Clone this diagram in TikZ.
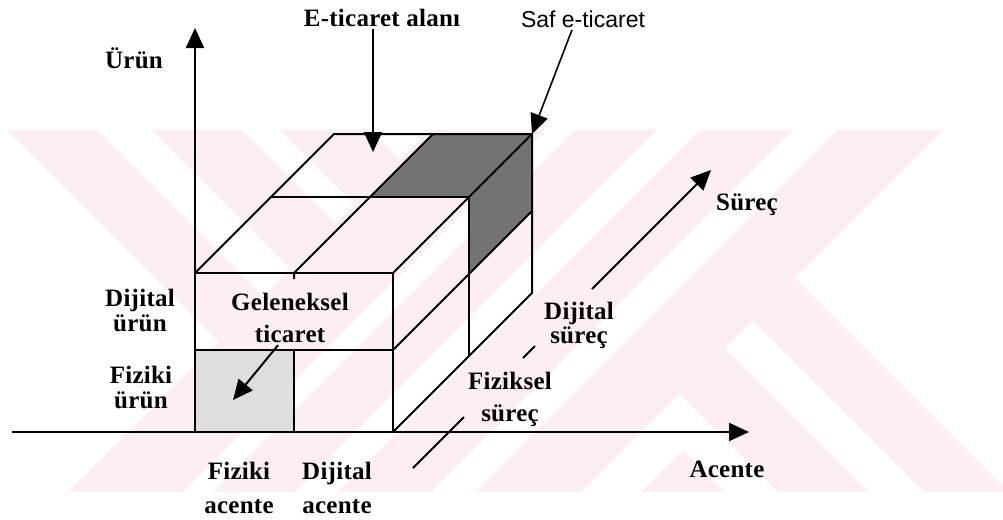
\documentclass[tikz,border=0pt]{standalone}
\usepackage{fontspec}
\setmainfont{Liberation Serif}
\newfontfamily\lblfont[LetterSpace=1]{Liberation Serif}
\newfontfamily\arialfont{Liberation Sans}
\usepackage{tikz}
\usetikzlibrary{arrows.meta}
\definecolor{wmpink}{RGB}{253,238,241}

\begin{document}
\begin{tikzpicture}[x=0.5pt,y=-0.5pt]
        \tikzstyle{wm}=[fill=wmpink]
        \tikzstyle{txt}=[font=\lblfont\bfseries\fontsize{12.5}{15}\selectfont,inner sep=1pt,align=center]
        \tikzstyle{cube}=[draw,line width=1pt,line join=round]
        \tikzstyle{arr}=[draw,line width=1pt,-{Triangle[length=10pt,width=9pt]}]
        \useasboundingbox (0,0) rectangle (1003,520);
        % background stripes
        \begin{scope}
          \clip (0,130) rectangle (1003,492);
          \foreach \a/\b in {560/675,705/787,830/923,967/1073}
            \fill[wm] (\a-130,130) -- (\b-130,130) -- (\b-492,492) -- (\a-492,492) -- cycle;
          \begin{scope}
            \clip (0,130) -- (430,130) -- (68,492) -- (0,492) -- cycle;
            \foreach \a/\b in {-123/-33,22/112,150/240}
              \fill[wm] (\a+130,130) -- (\b+130,130) -- (\b+492,492) -- (\a+492,492) -- cycle;
          \end{scope}
          \begin{scope}
            \clip (943,130) -- (1003,130) -- (1003,492) -- (581,492) -- cycle;
            \foreach \a/\b in {286/377,432/517}
              \fill[wm] (\a+130,130) -- (\b+130,130) -- (\b+492,492) -- (\a+492,492) -- cycle;
            \fill[wm] (683,450) -- (725,492) -- (641,492) -- cycle;
          \end{scope}
        \end{scope}
        % cube corners
        \coordinate (a1) at (195,432);
        \coordinate (a2) at (294,432);
        \coordinate (a3) at (393,432);
        \coordinate (b1) at (195,350);
        \coordinate (b2) at (294,350);
        \coordinate (b3) at (393,350);
        \coordinate (c1) at (195,273);
        \coordinate (c2) at (294,273);
        \coordinate (c3) at (393,273);
        \coordinate (m1) at (271,197);
        \coordinate (m2) at (370,197);
        \coordinate (m3) at (469,197);
        \coordinate (m4) at (469,274);
        \coordinate (m5) at (469,356);
        \coordinate (d1) at (334,134);
        \coordinate (d2) at (433,134);
        \coordinate (d3) at (532,134);
        \coordinate (e3) at (532,211);
        \coordinate (g3) at (532,293);
        % shaded cells
        \fill[black!13] (a1) -- (a2) -- (b2) -- (b1) -- cycle;
        \fill[black!55] (m2) -- (m3) -- (d3) -- (d2) -- cycle;
        \fill[black!55] (m3) -- (d3) -- (e3) -- (m4) -- cycle;
        % cube lines
        \path[cube] (a1) -- (a3) -- (c3) -- (c1) -- cycle;
        \path[cube] (b1) -- (b3);
        \path[cube] (a2) -- (b2);
        \path[cube] (c1) -- (d1) -- (d3) -- (c3);
        \path[cube] (d2) -- (c2) -- ++(0,6);
        \path[cube] (m1) -- (m3);
        \path[cube] (d3) -- (g3) -- (a3);
        \path[cube] (m3) -- (m5);
        \path[cube] (b3) -- (e3);
        % axes
        \coordinate (o) at (12,432);
        \coordinate (xend) at (749,432);
        \coordinate (yend) at (195,28);
        \path[arr] (o) -- (xend);
        \path[arr] (a1) -- (yend);
        \coordinate (s1) at (413,468);
        \coordinate (s2) at (464,417);
        \coordinate (s3) at (523,358);
        \coordinate (s4) at (535,346);
        \coordinate (s5) at (592,289);
        \coordinate (s6) at (711,170);
        \path[cube] (s1) -- (s2);
        \path[cube] (s3) -- (s4);
        \path[arr] (s5) -- (s6);
        % labels
        \node[txt] (urun) at (134,58) {Ürün};
        \node[txt] (dur) at (140,310) {Dijital\\[-2.5pt]ürün};
        \node[txt] (fur) at (141,387) {Fiziki\\[-2.5pt]ürün};
        \node[txt] (gel) at (290,318) {Geleneksel\\[1pt]ticaret};
        \node[txt] (fac) at (239,488) {Fiziki\\[2pt]acente};
        \node[txt] (dac) at (337,488) {Dijital\\[2pt]acente};
        \node[txt] (acente) at (727,469) {Acente};
        \node[txt] (dsur) at (579,325) {Dijital\\[-3pt]süreç};
        \node[txt] (fsur) at (510,399) {Fiziksel\\[1pt]süreç};
        \node[txt] (surec) at (747,205) {Süreç};
        \node[txt] (eta) at (382,18) {E-ticaret alanı};
        \node[font=\arialfont\fontsize{11.5}{13}\selectfont,inner sep=1pt] (saf) at (583,19) {Saf e-ticaret};
        % pointers
        \coordinate (etatip) at (373,152);
        \coordinate (geltip) at (233,400);
        \path[arr] (eta.south -| etatip) -- (etatip);
        \path[arr,line width=0.8pt] ([xshift=-5.5pt]saf.south) -- (d3);
        \path[arr] ([xshift=-6pt]gel.south) -- (geltip);
\end{tikzpicture}
\end{document}
